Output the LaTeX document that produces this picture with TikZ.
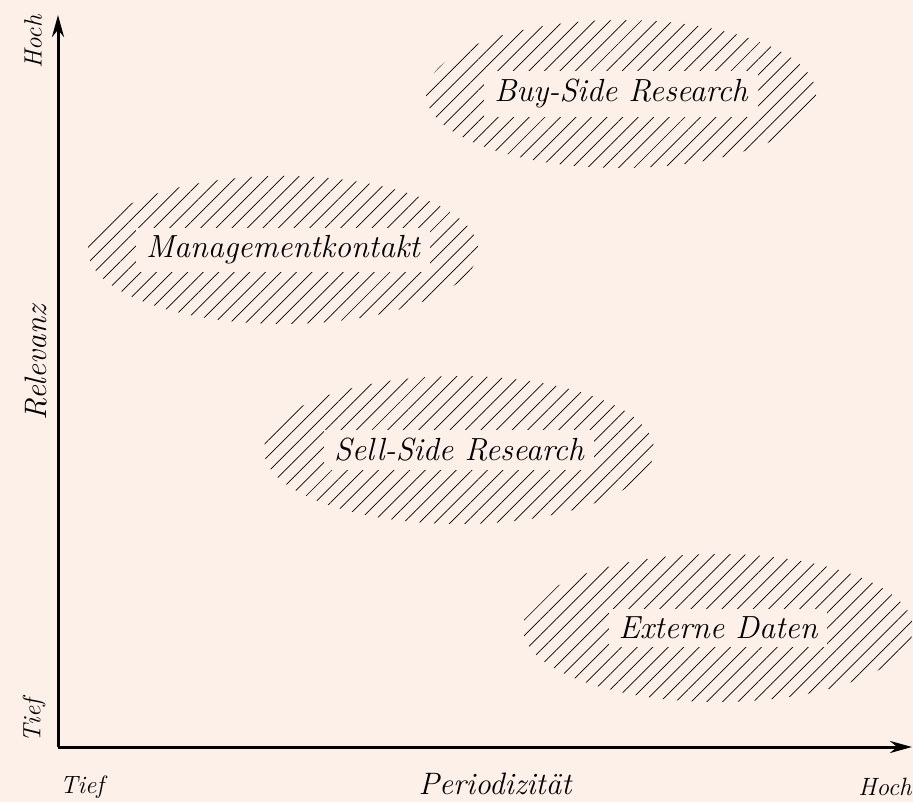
\documentclass[tikz,border=0pt]{standalone}
\usepackage{tikz}
\usetikzlibrary{arrows.meta,positioning,shapes.geometric,patterns.meta}
\definecolor{paper}{RGB}{253,240,232}

\begin{document}
\begin{tikzpicture}[x=0.5pt,y=0.5pt,>={Stealth[length=11pt,width=6pt]},
    area/.style={ellipse,minimum width=195pt,minimum height=74pt,inner sep=0pt,
      pattern={Lines[angle=45,distance=5.5pt,line width=0.35pt]}},
    tag/.style={fill=paper,inner xsep=5pt,inner ysep=4pt,font=\fontsize{16}{18}\selectfont\itshape},
    axislabel/.style={font=\fontsize{15.5}{18}\selectfont\itshape},
    endlabel/.style={font=\fontsize{12.5}{14}\selectfont\itshape}]

    \fill[paper] (0,0) rectangle (913,802);
    \useasboundingbox (0,0) rectangle (913,802);

    % axes
    \coordinate (O) at (58,55);
    \coordinate (ytop) at (58,787);
    \coordinate (xend) at (912,55);
    \draw[->,line width=1.5pt] (O) -- (ytop);
    \draw[->,line width=1.5pt] (O) -- (xend);

    \node[axislabel,rotate=90] (relevanz) at (36,439) {Relevanz};
    \node[axislabel] (period) at (495,18) {Periodizität};
    \node[endlabel] (xlow) at (82,15) {Tief};
    \node[endlabel] (xhigh) at (885,15) {Hoch};
    \node[endlabel,rotate=90] (ylow) at (34,81) {Tief};
    \node[endlabel,rotate=90] (yhigh) at (33,760) {Hoch};

    % fields
    \node[area] (buy) at (621,708) {};
    \node[area] (mgmt) at (283,552) {};
    \node[area] (sell) at (459,352) {};
    \node[area] (ext) at (718,174) {};

    \node[tag] (buytag) at (buy) {Buy-Side Research};
    \node[tag] (mgmttag) at (mgmt) {Managementkontakt};
    \node[tag] (selltag) at (sell) {Sell-Side Research};
    \node[tag] (exttag) at (ext) {Externe Daten};

\end{tikzpicture}
\end{document}
